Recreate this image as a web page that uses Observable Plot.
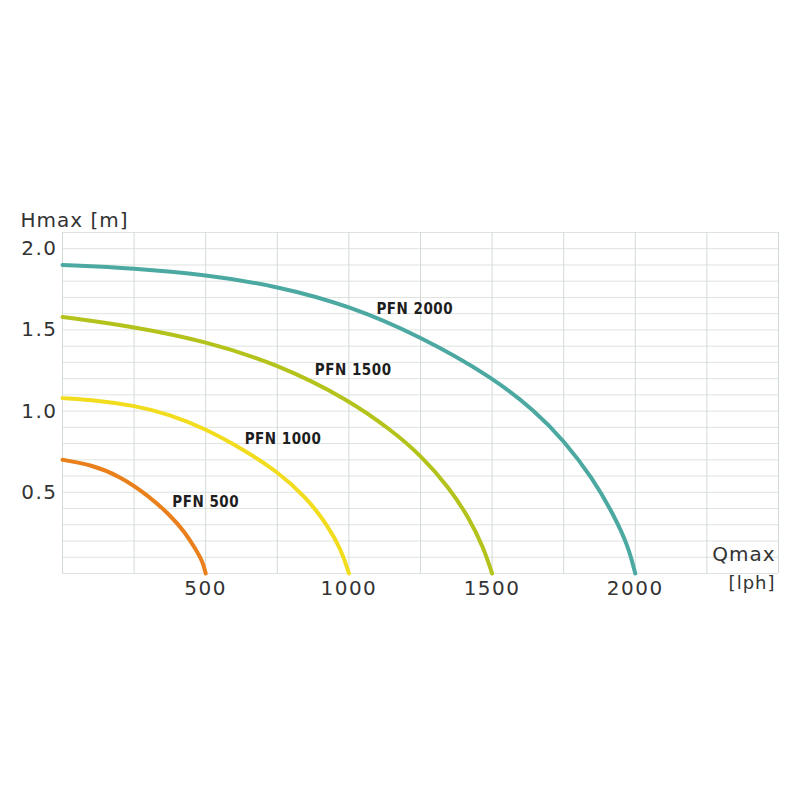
<!DOCTYPE html>
<html>
<head>
<meta charset="utf-8">
<script src="https://cdn.jsdelivr.net/npm/d3@7"></script>
<script src="https://cdn.jsdelivr.net/npm/@observablehq/plot@0.6"></script>
<style>
  html, body { margin: 0; padding: 0; background: #ffffff; }
  #chart svg { display: block; }
  #chart [aria-label="x-axis tick label"] text,
  #chart [aria-label="y-axis tick label"] text { letter-spacing: 1.5px; }
  #chart .axis-title { letter-spacing: 1px; }
  #chart .curve-label text { font-stretch: condensed; letter-spacing: 0.5px; }
</style>
</head>
<body>
<div id="chart"></div>
<script>
// ---- Data ----
const series = ["PFN 500", "PFN 1000", "PFN 1500", "PFN 2000"];
const seriesColors = ["#e9801c", "#f1dc1e", "#b3c31c", "#4ba9a1"];

const q500  = [0, 100, 200, 300, 375, 425, 465, 490, 500];
const h500  = [0.70, 0.67, 0.60, 0.48, 0.36, 0.26, 0.15, 0.07, 0];

const q1000 = [0, 125, 250, 375, 500, 625, 750, 850, 925, 975, 1000];
const h1000 = [1.08, 1.065, 1.035, 0.98, 0.89, 0.77, 0.63, 0.47, 0.30, 0.14, 0];

const q1500 = [0, 250, 500, 750, 1000, 1150, 1250, 1350, 1420, 1470, 1500];
const h1500 = [1.58, 1.52, 1.43, 1.29, 1.07, 0.88, 0.73, 0.53, 0.34, 0.16, 0];

const q2000 = [0, 250, 500, 750, 1000, 1250, 1500, 1650, 1750, 1850, 1925, 1975, 2000];
const h2000 = [1.90, 1.88, 1.84, 1.77, 1.65, 1.46, 1.21, 1.00, 0.82, 0.59, 0.36, 0.17, 0];

const labelNames = ["PFN 500", "PFN 1000", "PFN 1500", "PFN 2000"];
const labelQ     = [500, 770, 1015, 1230];
const labelH     = [0.44, 0.83, 1.25, 1.63];

const xTickValues = [500, 1000, 1500, 2000];
const yTickValues = [0.5, 1.0, 1.5, 2.0];
const xGridStep = 250;
const yGridStep = 0.1;
const xMax = 2500;
const yMax = 2.1;

const yTitle = "Hmax [m]";
const xTitle = "Qmax";
const xUnit = "[lph]";

// ---- Build tables ----
const qs = [q500, q1000, q1500, q2000];
const hs = [h500, h1000, h1500, h2000];
const rows = [];
series.forEach((s, i) => qs[i].forEach((q, j) => rows.push({series: s, q, h: hs[i][j]})));
const labels = labelNames.map((n, i) => ({name: n, q: labelQ[i], h: labelH[i]}));
const xGrid = d3.range(0, xMax + 1e-9, xGridStep);
const yGrid = d3.range(0, Math.round(yMax / yGridStep) + 1).map(k => +(k * yGridStep).toFixed(2));

const axisFont = "DejaVu Sans";

const chart = Plot.plot({
  width: 800,
  height: 800,
  marginLeft: 62,
  marginRight: 22,
  marginTop: 232,
  marginBottom: 227,
  style: {background: "#ffffff", fontFamily: axisFont},
  x: {domain: [0, xMax]},
  y: {domain: [0, yMax]},
  color: {domain: series, range: seriesColors},
  marks: [
    Plot.ruleY(yGrid, {stroke: "#dde3de", strokeWidth: 1}),
    Plot.ruleX(xGrid, {stroke: "#d2dad4", strokeWidth: 1}),
    Plot.line(rows, {x: "q", y: "h", z: "series", stroke: "series", strokeWidth: 4, curve: "basis"}),
    Plot.text(labels, {x: "q", y: "h", text: "name", fontFamily: "'DejaVu Sans Condensed', 'DejaVu Sans'", fontWeight: "bold", fontSize: 15, fill: "#1e1e1e", className: "curve-label"}),
    Plot.axisX(xTickValues, {tickSize: 0, tickPadding: 7, fontSize: 20, fill: "#333", label: null, tickFormat: d => String(d)}),
    Plot.axisY(yTickValues, {tickSize: 0, tickPadding: 5, fontSize: 20, fill: "#333", label: null, tickFormat: d => d.toFixed(1)}),
    Plot.text([yTitle], {frameAnchor: "top-left", dx: -42, dy: -20, textAnchor: "start", fontSize: 20, fill: "#333", className: "axis-title"}),
    Plot.text([xTitle], {frameAnchor: "bottom-right", dx: -3, dy: -13, textAnchor: "end", fontSize: 20, fill: "#333", className: "axis-title"}),
    Plot.text([xUnit], {frameAnchor: "bottom-right", dx: -3, dy: 15, textAnchor: "end", fontSize: 18, fill: "#333", className: "axis-title"})
  ]
});
document.getElementById("chart").appendChild(chart);
</script>
</body>
</html>
